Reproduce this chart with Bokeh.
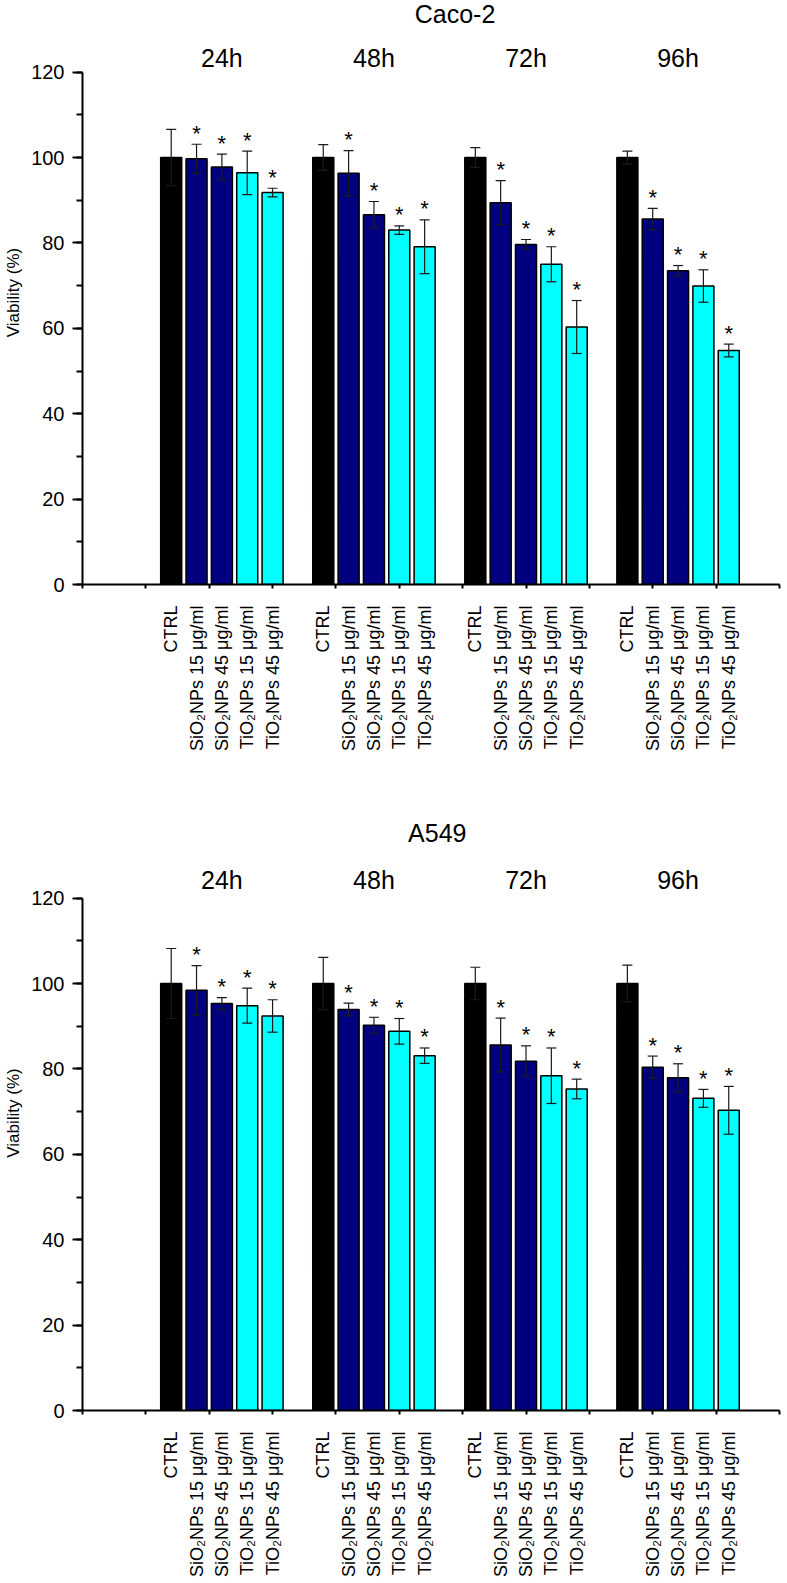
from math import pi
from bokeh.plotting import figure
from bokeh.models import Range1d, FixedTicker, SingleIntervalTicker, ColumnDataSource, Whisker, TeeHead
from bokeh.layouts import column
from bokeh.embed import file_html
from bokeh.resources import INLINE
from bokeh.core.properties import value

# ---------------- data ----------------
times = ["24h", "48h", "72h", "96h"]
treatments = ["CTRL", "SiO₂NPs 15 μg/ml", "SiO₂NPs 45 μg/ml", "TiO₂NPs 15 μg/ml", "TiO₂NPs 45 μg/ml"]
treatment_colors = ["#000000", "#000080", "#000080", "#00FFFF", "#00FFFF"]
significant = [False, True, True, True, True]

caco2_mean = [
    [100, 99.7, 97.8, 96.4, 91.8],
    [100, 96.3, 86.6, 83.0, 79.1],
    [100, 89.4, 79.6, 75.0, 60.3],
    [100, 85.6, 73.5, 69.9, 54.8],
]
caco2_err = [
    [6.6, 3.4, 3.0, 5.1, 1.0],
    [3.0, 5.3, 3.1, 1.0, 6.3],
    [2.3, 5.2, 1.2, 4.1, 6.2],
    [1.5, 2.5, 1.2, 3.8, 1.5],
]
a549_mean = [
    [100, 98.4, 95.3, 94.8, 92.4],
    [100, 93.9, 90.2, 88.8, 83.1],
    [100, 85.6, 81.8, 78.4, 75.3],
    [100, 80.4, 77.9, 73.1, 70.3],
]
a549_err = [
    [8.2, 5.8, 1.4, 4.1, 3.8],
    [6.1, 1.5, 1.9, 3.0, 1.8],
    [3.8, 6.3, 3.6, 6.5, 2.3],
    [4.3, 2.6, 3.3, 2.1, 5.6],
]

FONT = "Liberation Sans"
PX_PER_UNIT = 4.27  # vertical scale of both panels (pixels per % viability)


def make_panel(title, means, errs, frame_h, border_bottom, title_x, title_px, group_px):
    y_top = frame_h / PX_PER_UNIT
    xs, tops, cols, ups, lows, labels = [], [], [], [], [], {}
    star_x, star_y = [], []
    group_x = []
    for g, t in enumerate(times):
        start = 3 + 6 * g
        group_x.append(start + 2)
        for i, tr in enumerate(treatments):
            x = start + i
            m = means[g][i]
            e = errs[g][i]
            xs.append(x)
            tops.append(m)
            cols.append(treatment_colors[i])
            ups.append(m + e)
            lows.append(m - e)
            labels[x] = tr
            if significant[i]:
                star_x.append(x)
                star_y.append(m + e + 11 / PX_PER_UNIT)

    p = figure(frame_width=702, frame_height=frame_h,
               x_range=Range1d(-0.5, 27.2), y_range=Range1d(0, y_top),
               output_backend="svg", toolbar_location=None,
               min_border_left=82, min_border_right=0, min_border_top=0,
               min_border_bottom=border_bottom)
    p.outline_line_color = None
    p.xgrid.grid_line_color = None
    p.ygrid.grid_line_color = None
    p.background_fill_color = "white"

    src = ColumnDataSource(dict(x=xs, top=tops, color=cols, upper=ups, lower=lows))
    p.vbar(x="x", top="top", width=0.83, bottom=0, source=src,
           fill_color="color", line_color="black", line_width=1.5)

    w = Whisker(base="x", upper="upper", lower="lower", source=src,
                line_color="#1a1a1a", line_width=1.2,
                upper_head=TeeHead(size=10, line_color="#1a1a1a", line_width=1.2),
                lower_head=TeeHead(size=10, line_color="#1a1a1a", line_width=1.2))
    w.level = "overlay"
    p.add_layout(w)

    p.text(x=star_x, y=star_y, text=["*"] * len(star_x),
           text_font=value(FONT), text_font_size="22px", text_color="black",
           text_align="center", text_baseline="alphabetic")

    p.text(x=group_x, y=[y_top - group_px / PX_PER_UNIT] * len(group_x), text=times,
           text_font=value(FONT), text_font_size="25px", text_color="black",
           text_align="center", text_baseline="middle")

    p.text(x=[title_x], y=[y_top - title_px / PX_PER_UNIT], text=[title],
           text_font=value(FONT), text_font_size="25px", text_color="black",
           text_align="center", text_baseline="middle")

    # x axis
    xa = p.xaxis[0]
    xa.ticker = FixedTicker(ticks=xs, minor_ticks=[-0.5 + 2.5 * k for k in range(12)])
    xa.major_label_overrides = labels
    xa.bounds = (-0.5, 27)
    xa.major_label_orientation = pi / 2
    xa.major_label_text_font = FONT
    xa.major_label_text_font_size = "18px"
    xa.major_label_text_color = "black"
    xa.major_label_standoff = 17
    xa.major_tick_line_color = None
    xa.major_tick_out = 0
    xa.major_tick_in = 0
    xa.minor_tick_out = 4
    xa.minor_tick_in = 0
    xa.minor_tick_line_width = 2
    xa.minor_tick_line_color = "black"
    xa.axis_line_width = 2
    xa.axis_line_color = "black"

    # y axis
    ya = p.yaxis[0]
    ya.ticker = SingleIntervalTicker(interval=20, num_minor_ticks=2)
    ya.bounds = (0, 120)
    ya.axis_label = "Viability (%)"
    ya.axis_label_text_font = FONT
    ya.axis_label_text_font_size = "17px"
    ya.axis_label_text_font_style = "normal"
    ya.axis_label_text_color = "black"
    ya.axis_label_standoff = 5
    ya.major_label_text_font = FONT
    ya.major_label_text_font_size = "20px"
    ya.major_label_text_color = "black"
    ya.major_label_standoff = 8
    ya.major_tick_out = 10
    ya.major_tick_in = 0
    ya.minor_tick_out = 6
    ya.minor_tick_in = 0
    ya.major_tick_line_width = 2
    ya.minor_tick_line_width = 2
    ya.axis_line_width = 2
    ya.axis_line_color = "black"
    return p


# frame of the top panel spans page y 0..584, the bottom one 815..1410
p1 = make_panel("Caco-2", caco2_mean, caco2_err, frame_h=584, border_bottom=231,
                title_x=14.2, title_px=13, group_px=57)
p2 = make_panel("A549", a549_mean, a549_err, frame_h=595, border_bottom=166,
                title_x=13.5, title_px=17, group_px=64)

layout = column(p1, p2)
open("out.html", "w").write(file_html(layout, INLINE))
